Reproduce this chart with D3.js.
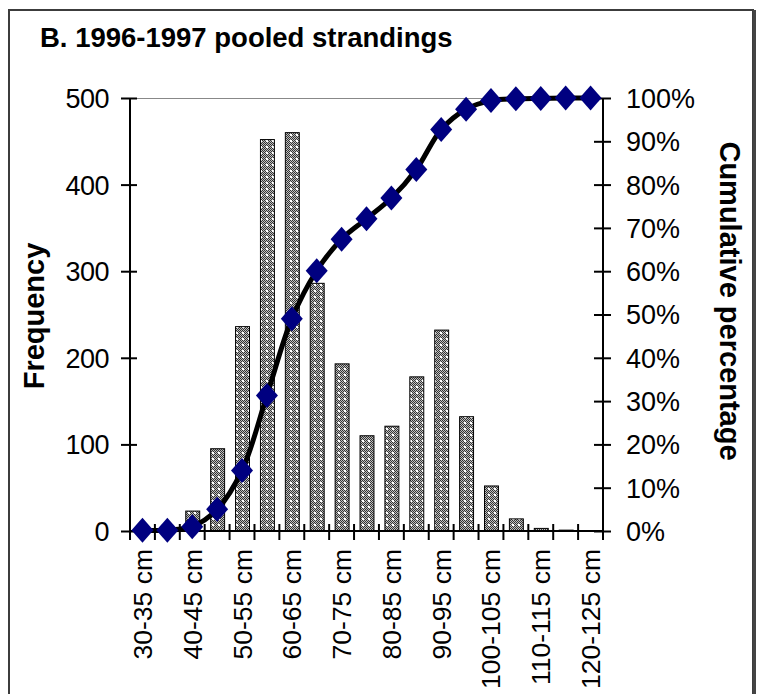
<!DOCTYPE html>
<html><head><meta charset="utf-8">
<script src="https://cdn.jsdelivr.net/npm/d3@7"></script>
<style>html,body{margin:0;padding:0;background:#fff;}svg{display:block;}text{font-family:"Liberation Sans",Arial,sans-serif;}</style>
</head><body>
<svg id="c" width="757" height="694"></svg>
<script>
const categories = ["30-35 cm","35-40 cm","40-45 cm","45-50 cm","50-55 cm","55-60 cm","60-65 cm","65-70 cm","70-75 cm","75-80 cm","80-85 cm","85-90 cm","90-95 cm","95-100 cm","100-105 cm","105-110 cm","110-115 cm","115-120 cm","120-125 cm"];
const frequency = [0,0,23,95,236,452,460,286,193,110,121,178,232,132,52,14,3,1,0];
const cumulative = [0.2,0.2,1.0,5.0,14.0,31.3,49.0,60.1,67.4,72.1,76.9,83.5,92.7,97.4,99.4,99.8,99.9,100,100];
const freqTicks = [0,100,200,300,400,500];
const pctTicks = [0,10,20,30,40,50,60,70,80,90,100];
const labelCats = categories.filter((d,i)=>i%2===0);

const svg = d3.select("#c");
const L=130, R=603, T=98, B=531;

const defs = svg.append("defs");
const pat = defs.append("pattern").attr("id","dots").attr("patternUnits","userSpaceOnUse").attr("width",6).attr("height",6);
pat.append("rect").attr("width",6).attr("height",6).attr("fill","#c0c0c0");
for (let a=0;a<6;a++) for (let b=0;b<6;b++) if ((a+b)%2===0)
  pat.append("rect").attr("x",a).attr("y",b).attr("width",1).attr("height",1).attr("fill","#333333");
pat.append("rect").attr("x",2).attr("y",2).attr("width",2).attr("height",2).attr("fill","#ffffff");

// frame
svg.append("rect").attr("x",9).attr("y",10).attr("width",744).attr("height",700).attr("fill","none").attr("stroke","#3c3c3c").attr("stroke-width",2);
svg.append("line").attr("x1",754.5).attr("x2",754.5).attr("y1",10).attr("y2",694).attr("stroke","#444").attr("stroke-width",3);

const x = d3.scaleBand().domain(categories).range([L,R]).paddingInner(0.44).paddingOuter(0.22);
const y = d3.scaleLinear().domain([0,500]).range([B,T]);
const y2 = d3.scaleLinear().domain([0,100]).range([B,T]);

// top gridline
svg.append("line").attr("x1",L).attr("x2",R).attr("y1",T+0.5).attr("y2",T+0.5).attr("stroke","#888").attr("stroke-width",1);

// bars
svg.append("g").selectAll("rect").data(frequency).join("rect")
  .attr("x",(d,i)=>x(categories[i])+0.5)
  .attr("y",d=>y(d))
  .attr("width",x.bandwidth())
  .attr("height",d=>B-y(d))
  .attr("fill","url(#dots)").attr("stroke","#000").attr("stroke-width",1)
  .attr("display",d=>d>0?null:"none");

// left axis
const gl = svg.append("g").attr("transform",`translate(${L},0)`)
  .call(d3.axisLeft(y).tickValues(freqTicks).tickSize(9).tickPadding(12));
gl.select(".domain").attr("stroke","#000").attr("stroke-width",2).attr("d",`M0,${T}V${B}`);
gl.selectAll(".tick line").attr("x1",7).attr("x2",-9).attr("stroke","#000").attr("stroke-width",2);
gl.selectAll(".tick text").attr("font-size",27).attr("fill","#000").attr("letter-spacing","-0.5").attr("dy","0.35em").attr("font-family","Liberation Sans, Arial, sans-serif");

// right axis
const gr = svg.append("g").attr("transform",`translate(${R},0)`)
  .call(d3.axisRight(y2).tickValues(pctTicks).tickFormat(d=>d+"%").tickSize(8).tickPadding(15));
gr.select(".domain").attr("stroke","#000").attr("stroke-width",2).attr("d",`M0,${T}V${B}`);
gr.selectAll(".tick line").attr("x1",-9).attr("x2",8).attr("stroke","#000").attr("stroke-width",2);
gr.selectAll(".tick text").attr("font-size",27).attr("fill","#000").attr("dy","0.35em").attr("font-family","Liberation Sans, Arial, sans-serif");

// x axis line and boundary ticks
const step = x.step();
const bounds = d3.range(categories.length+1).map(i=>L+i*step);
svg.append("line").attr("x1",L).attr("x2",R).attr("y1",B).attr("y2",B).attr("stroke","#000").attr("stroke-width",2);
svg.append("g").selectAll("line").data(bounds).join("line")
  .attr("x1",d=>d).attr("x2",d=>d).attr("y1",B-7).attr("y2",B+9).attr("stroke","#000").attr("stroke-width",2);

// x labels
svg.append("g").selectAll("text").data(labelCats).join("text")
  .attr("transform",d=>`translate(${x(d)+x.bandwidth()/2+9.5},549) rotate(-90)`)
  .attr("text-anchor","end").attr("font-size",26.5).text(d=>d);

// line
const line = d3.line().x((d,i)=>x(categories[i])+x.bandwidth()/2).y(d=>y2(d)).curve(d3.curveCatmullRom.alpha(0.5));
svg.append("path").datum(cumulative).attr("d",line).attr("fill","none").attr("stroke","#000").attr("stroke-width",5);

// markers
svg.append("g").selectAll("path").data(cumulative).join("path")
  .attr("transform",(d,i)=>`translate(${x(categories[i])+x.bandwidth()/2},${y2(d)})`)
  .attr("d","M0,-12.5L11,0L0,12.5L-11,0Z").attr("fill","#000080");

// titles
svg.append("text").attr("x",40).attr("y",47).attr("font-size",27.5).attr("font-weight","bold").text("B. 1996-1997 pooled strandings");
svg.append("text").attr("transform","translate(44,316) rotate(-90)").attr("text-anchor","middle").attr("font-size",29).attr("font-weight","bold").text("Frequency");
svg.append("text").attr("transform","translate(720,301) rotate(90)").attr("text-anchor","middle").attr("font-size",29).attr("font-weight","bold").text("Cumulative percentage");
</script>
</body></html>
